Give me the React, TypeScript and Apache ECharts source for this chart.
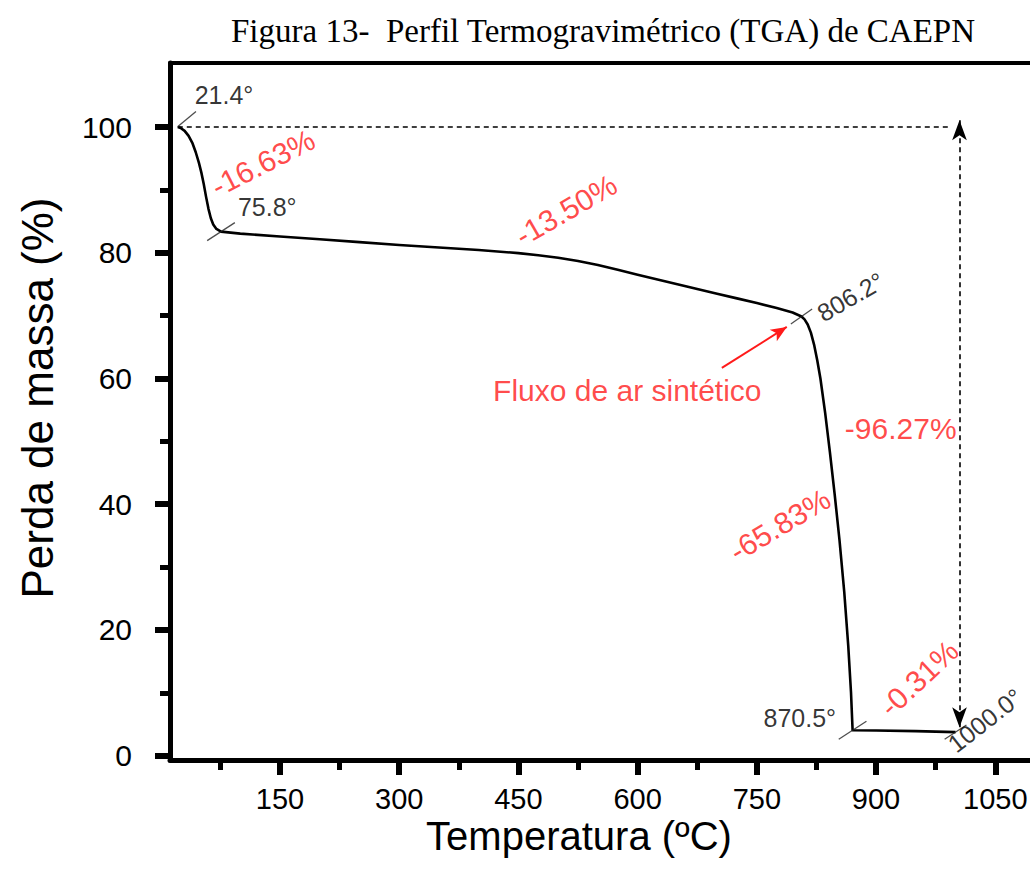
import React, { useEffect, useRef } from "react";
import * as echarts from "echarts";

// ---- data ----
const tgaTemp = [
  21.4, 25, 30, 35, 40, 44, 48, 51, 54, 57, 60, 63, 66, 70, 75.8,
  100, 150, 200, 250, 300, 350, 400, 450, 475, 500, 525, 550, 575, 600, 625, 650, 675, 700, 725, 750, 775, 795, 806.2,
  810, 814, 818, 822, 826, 830, 836, 842, 848, 854, 860, 865, 868.5, 870.5,
  900, 950, 1000.0,
];
const tgaMass = [
  100, 99.85, 99.4, 98.6, 97.4, 96.0, 94.3, 92.8, 91.0, 88.9, 87.0, 85.5, 84.5, 83.8, 83.37,
  83.05, 82.6, 82.15, 81.7, 81.25, 80.85, 80.45, 79.95, 79.6, 79.2, 78.7, 78.05, 77.3, 76.5, 75.75, 75.0, 74.25, 73.5, 72.75, 72.0, 71.2, 70.5, 69.87,
  69.4, 68.6, 67.3, 65.4, 62.9, 60.0, 54.5, 48.2, 41.5, 34.3, 26.0, 17.5, 10.0, 4.04,
  4.0, 3.9, 3.73,
];

const eventTemps = [21.4, 75.8, 806.2, 870.5, 1000.0];
const eventMass = [100, 83.37, 69.87, 4.04, 3.73];
const eventTexts = ["21.4°", "75.8°", "806.2°", "870.5°", "1000.0°"];
const eventLabelX = [79.6, 134, 868, 804, 1037];
const eventLabelY = [105.1, 87.3, 73, 6.0, 5.6];
const eventLabelRotate = [0, 0, 30, 0, 38];

const lossTexts = ["-16.63%", "-13.50%", "Fluxo de ar sintético", "-96.27%", "-65.83%", "-0.31%"];
const lossX = [128.7, 510, 587, 931, 779, 954];
const lossY = [94.3, 86.8, 58.1, 52.1, 36.7, 12.3];
const lossRotate = [27, 30, 0, 0, 31, 43];

const xMajorTicks = [150, 300, 450, 600, 750, 900, 1050];
const xMinorTicks = [75, 225, 375, 525, 675, 825, 975];
const yMajorTicks = [0, 20, 40, 60, 80, 100];
const yMinorTicks = [10, 30, 50, 70, 90];

const hLineEndX = 995;
const totalArrowX = 1005;
const totalArrowTop = 101.1;
const totalArrowBottom = 4.5;
const arrowStart = [706, 61.7];
const arrowEnd = [787.7, 68.2];

// ---- styles ----
const SANS = '"Liberation Sans", Arial, sans-serif';
const SERIF = '"Liberation Serif", "Times New Roman", serif';
const RED = "#ff1a1a";
const X_MIN = 11.6;
const X_MAX = 1100;
const Y_MIN = -0.7;
const Y_MAX = 110.2;

export default function App() {
  const ref = useRef<HTMLDivElement>(null);

  useEffect(() => {
    if (!ref.current) return;
    const chart = echarts.init(ref.current, undefined, { renderer: "svg" });

    const markerAngles = [40, 33, 35, 33, 33];
    const markerLens = [24, 33, 26, 33, 26];
    const markerOffsets = [[9, -8], [0, 0], [0, 0], [0, 0], [0, 0]];

    const option: any = {
      animation: false,
      backgroundColor: "#ffffff",
      graphic: [
        {
          type: "text",
          x: 603,
          y: 31,
          style: {
            text: "Figura 13-  Perfil Termogravimétrico (TGA) de CAEPN",
            font: `33px ${SERIF}`,
            fill: "#000",
            align: "center",
            verticalAlign: "middle",
          },
        },
        {
          type: "text",
          x: 579,
          y: 836,
          style: {
            text: "Temperatura (ºC)",
            font: `40px ${SANS}`,
            fill: "#000",
            align: "center",
            verticalAlign: "middle",
          },
        },
        {
          type: "text",
          x: 37,
          y: 398,
          rotation: Math.PI / 2,
          style: {
            text: "Perda de massa (%)",
            font: `44px ${SANS}`,
            fill: "#000",
            align: "center",
            verticalAlign: "middle",
          },
        },
      ],
      grid: { left: 170, right: 5, top: 63, bottom: 126, containLabel: false },
      xAxis: [
        {
          type: "value",
          position: "bottom",
          min: X_MIN,
          max: X_MAX,
          axisLine: { show: true, onZero: false, lineStyle: { color: "#000", width: 5 } },
          axisTick: {
            show: true,
            inside: false,
            length: 15,
            customValues: xMajorTicks,
            lineStyle: { color: "#000", width: 6 },
          },
          axisLabel: {
            show: true,
            customValues: xMajorTicks,
            formatter: (v: number) => String(v),
            margin: 24,
            color: "#000",
            fontFamily: SANS,
            fontSize: 29,
          },
          splitLine: { show: false },
        },
        {
          type: "value",
          position: "bottom",
          min: X_MIN,
          max: X_MAX,
          axisLine: { show: false, onZero: false },
          axisTick: {
            show: true,
            length: 10,
            customValues: xMinorTicks,
            lineStyle: { color: "#000", width: 5 },
          },
          axisLabel: { show: false },
          splitLine: { show: false },
        },
        {
          type: "value",
          position: "top",
          min: X_MIN,
          max: X_MAX,
          axisLine: { show: true, onZero: false, lineStyle: { color: "#000", width: 4 } },
          axisTick: { show: false },
          axisLabel: { show: false },
          splitLine: { show: false },
        },
      ],
      yAxis: [
        {
          type: "value",
          position: "left",
          min: Y_MIN,
          max: Y_MAX,
          axisLine: { show: true, onZero: false, lineStyle: { color: "#000", width: 5 } },
          axisTick: {
            show: true,
            length: 15,
            customValues: yMajorTicks,
            lineStyle: { color: "#000", width: 6 },
          },
          axisLabel: {
            show: true,
            customValues: yMajorTicks,
            formatter: (v: number) => String(v),
            margin: 38,
            color: "#000",
            fontFamily: SANS,
            fontSize: 30,
          },
          splitLine: { show: false },
        },
        {
          type: "value",
          position: "left",
          min: Y_MIN,
          max: Y_MAX,
          axisLine: { show: false, onZero: false },
          axisTick: {
            show: true,
            length: 10,
            customValues: yMinorTicks,
            lineStyle: { color: "#000", width: 5 },
          },
          axisLabel: { show: false },
          splitLine: { show: false },
        },
      ],
      series: [
        {
          type: "line",
          xAxisIndex: 0,
          yAxisIndex: 0,
          data: tgaTemp.map((t, i) => [t, tgaMass[i]]),
          symbol: "none",
          smooth: false,
          lineStyle: { color: "#000", width: 2.6, join: "round" },
          z: 5,
          markLine: {
            silent: true,
            animation: false,
            label: { show: false },
            emphasis: { disabled: true },
            data: [
              [
                { coord: [eventTemps[0], eventMass[0]], symbol: "none", lineStyle: { color: "#000", width: 1.6, type: [5, 4] } },
                { coord: [hLineEndX, eventMass[0]], symbol: "none" },
              ],
              [
                { coord: [totalArrowX, totalArrowTop], symbol: "arrow", symbolSize: [11, 20], lineStyle: { color: "#000", width: 1.6, type: [5, 4] } },
                { coord: [totalArrowX, totalArrowBottom], symbol: "arrow", symbolSize: [11, 20] },
              ],
              [
                { coord: arrowStart, symbol: "none", lineStyle: { color: RED, width: 2, type: "solid" } },
                { coord: arrowEnd, symbol: "arrow", symbolSize: [10, 16] },
              ],
            ],
          },
        },
        {
          type: "scatter",
          xAxisIndex: 0,
          yAxisIndex: 0,
          silent: true,
          z: 6,
          data: eventTemps.map((t, i) => ({
            value: [t, eventMass[i]],
            symbol: "rect",
            symbolSize: [markerLens[i], 1.3],
            symbolRotate: markerAngles[i],
            symbolOffset: markerOffsets[i],
          })),
          itemStyle: { color: "#222" },
        },
        {
          type: "scatter",
          xAxisIndex: 0,
          yAxisIndex: 0,
          silent: true,
          z: 7,
          symbolSize: 0,
          data: eventTexts.map((txt, i) => ({
            value: [eventLabelX[i], eventLabelY[i]],
            label: {
              show: true,
              position: "inside",
              formatter: txt,
              rotate: eventLabelRotate[i],
              color: "#000",
              fontFamily: SANS,
              fontSize: 25,
              align: "center",
              verticalAlign: "middle",
            },
          })),
        },
        {
          type: "scatter",
          xAxisIndex: 0,
          yAxisIndex: 0,
          silent: true,
          z: 7,
          symbolSize: 0,
          data: lossTexts.map((txt, i) => ({
            value: [lossX[i], lossY[i]],
            label: {
              show: true,
              position: "inside",
              formatter: txt,
              rotate: lossRotate[i],
              color: RED,
              fontFamily: SANS,
              fontSize: 30,
              align: "center",
              verticalAlign: "middle",
            },
          })),
        },
      ],
    };

    chart.setOption(option);
    return () => chart.dispose();
  }, []);

  return (
    <div style={{ position: "absolute", left: 0, top: 0, width: 1030, height: 886, overflow: "hidden", background: "#fff" }}>
      <div ref={ref} style={{ width: 1040, height: 886 }} />
    </div>
  );
}
